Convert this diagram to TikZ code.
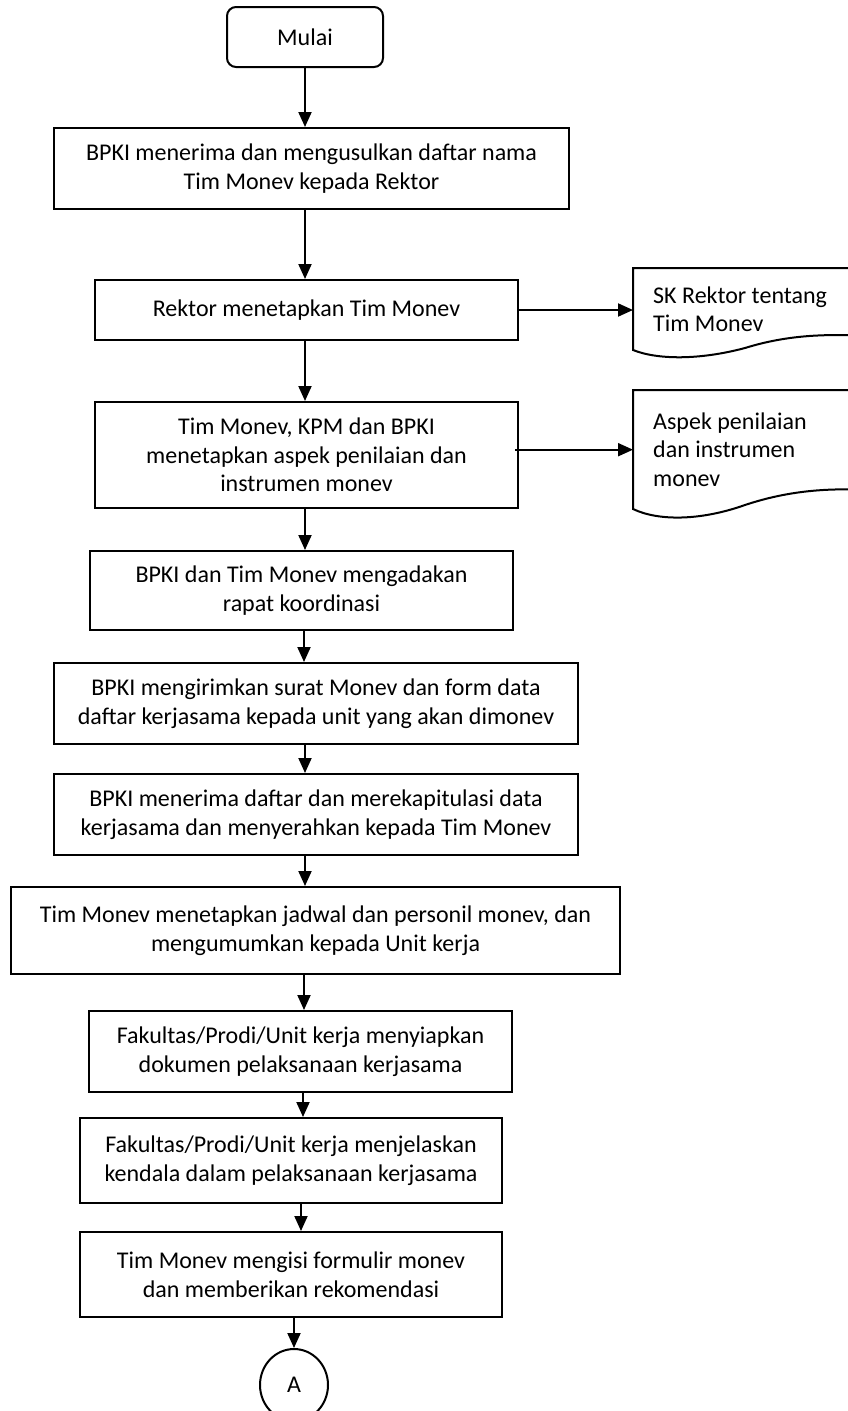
\documentclass[tikz,border=0pt]{standalone}
\usepackage{fontspec}
\setmainfont{Carlito}
\usetikzlibrary{arrows.meta,shapes.geometric}

\tikzset{
  proc/.style={draw, line width=2pt, align=center, inner sep=0pt,
    font={\fontsize{24pt}{28.5pt}\selectfont}},
  startbox/.style={proc, rounded corners=9pt},
  conn/.style={proc, ellipse, minimum width=68pt, minimum height=72pt},
  doctext/.style={anchor=north west, align=flush left, text width=195pt,
    inner xsep=20pt, inner ysep=0pt,
    font={\fontsize{24pt}{28.5pt}\selectfont}},
  flow/.style={-{Triangle[length=15pt,width=13pt]}, line width=2pt},
}

\begin{document}
\begin{tikzpicture}[x=1pt, y=-1pt]
\useasboundingbox (0,0) rectangle (848,1411);
\clip (0,0) rectangle (848,1411);

% main column
\node[startbox, minimum width=156pt, minimum height=60pt] (start) at (305,37) {Mulai};
\node[proc, minimum width=515pt, minimum height=81pt] (usul) at (311.5,168.5)
  {BPKI menerima dan mengusulkan daftar nama\\Tim Monev kepada Rektor};
\node[proc, minimum width=423pt, minimum height=60pt] (tetap) at (306.5,310)
  {Rektor menetapkan Tim Monev};
\node[proc, minimum width=423pt, minimum height=106pt] (aspek) at (306.5,455)
  {Tim Monev, KPM dan BPKI\\menetapkan aspek penilaian dan\\instrumen monev};
\node[proc, minimum width=423pt, minimum height=79pt] (rapat) at (301.5,590.5)
  {BPKI dan Tim Monev mengadakan\\rapat koordinasi};
\node[proc, minimum width=524pt, minimum height=81pt] (surat) at (316,703.5)
  {BPKI mengirimkan surat Monev dan form data\\daftar kerjasama kepada unit yang akan dimonev};
\node[proc, minimum width=524pt, minimum height=81pt] (rekap) at (316,814.5)
  {BPKI menerima daftar dan merekapitulasi data\\kerjasama dan menyerahkan kepada Tim Monev};
\node[proc, minimum width=609pt, minimum height=87pt] (jadwal) at (315.5,930.5)
  {Tim Monev menetapkan jadwal dan personil monev, dan\\mengumumkan kepada Unit kerja};
\node[proc, minimum width=423pt, minimum height=81pt] (siap) at (300.5,1051.5)
  {Fakultas/Prodi/Unit kerja menyiapkan\\dokumen pelaksanaan kerjasama};
\node[proc, minimum width=422pt, minimum height=85pt] (jelas) at (291,1160.5)
  {Fakultas/Prodi/Unit kerja menjelaskan\\kendala dalam pelaksanaan kerjasama};
\node[proc, minimum width=422pt, minimum height=85pt] (isi) at (291,1274.5)
  {Tim Monev mengisi formulir monev\\dan memberikan rekomendasi};
\node[conn] (A) at (294,1385) {A};

% documents
\draw[line width=2pt] (870,268) -- (633,268) -- (633,350)
  .. controls (658,360) and (700,360) .. (745,348)
  .. controls (790,334) and (830,334) .. (870,336);
\node[doctext, minimum height=82pt] (sk) at (633,268) {SK Rektor tentang\\Tim Monev};
\draw[line width=2pt] (870,390) -- (633,390) -- (633,509)
  .. controls (658,521) and (700,521) .. (745,505)
  .. controls (790,490) and (830,488) .. (870,490);
\node[doctext, minimum height=119pt] (instr) at (633,390)
  {Aspek penilaian\\dan instrumen\\monev};

% arrows
\draw[flow] (start.south) -- (start.south |- usul.north);
\draw[flow] (start.south |- usul.south) -- (start.south |- tetap.north);
\draw[flow] (start.south |- tetap.south) -- (start.south |- aspek.north);
\draw[flow] (start.south |- aspek.south) -- (start.south |- rapat.north);
\draw[flow] ([xshift=2.5pt]rapat.south) -- ([xshift=2.5pt]rapat.south |- surat.north);
\draw[flow] (start.south |- surat.south) -- (start.south |- rekap.north);
\draw[flow] (start.south |- rekap.south) -- (start.south |- jadwal.north);
\draw[flow] ([xshift=3.5pt]siap.north |- jadwal.south) -- ([xshift=3.5pt]siap.north);
\draw[flow] ([xshift=2.5pt]siap.south) -- ([xshift=2.5pt]siap.south |- jelas.north);
\draw[flow] ([xshift=10pt]jelas.south) -- ([xshift=10pt]jelas.south |- isi.north);
\draw[flow] (A.north |- isi.south) -- (A.north);
\draw[flow] (tetap.east) -- (tetap.east -| sk.west);
\draw[flow] ([xshift=-4pt]aspek.east |- instr.west) -- (instr.west);
\end{tikzpicture}
\end{document}
